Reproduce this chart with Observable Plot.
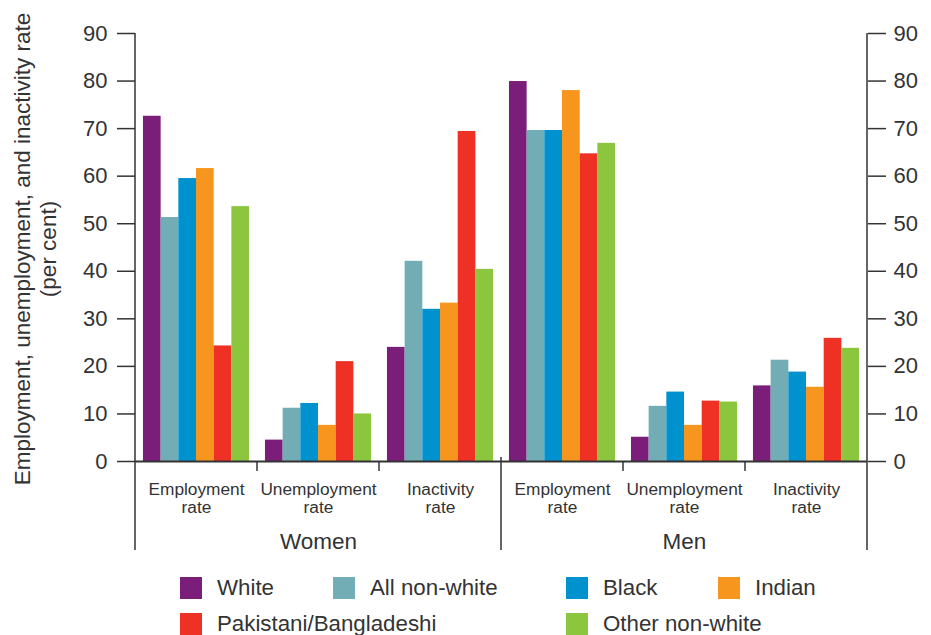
<!DOCTYPE html>
<html><head><meta charset="utf-8">
<script src="https://cdn.jsdelivr.net/npm/d3@7"></script>
<script src="https://cdn.jsdelivr.net/npm/@observablehq/plot@0.6"></script>
<style>
body{margin:0;background:#fff;font-family:"Liberation Sans",Arial,sans-serif;color:#333}
#legend{display:grid;grid-template-columns:153px 233px 152px auto;grid-auto-rows:22px;row-gap:14px;margin:17px 0 0 180px;font-size:22.3px}
.item{display:flex;align-items:center;white-space:nowrap;line-height:22px}
.sw{width:22px;height:22px;margin-right:15px;flex:none}
</style></head><body><div id="chart"></div><div id="legend"></div>
<script>
const sexes = ["Women", "Men"];
const measures = ["Employment rate", "Unemployment rate", "Inactivity rate"];
const ethnicities = ["White", "All non-white", "Black", "Indian", "Pakistani/Bangladeshi", "Other non-white"];
const colors = ["#7a1e7a", "#72adb5", "#0091cf", "#f7961e", "#ee3124", "#8cc63f"];

const womenEmployment   = [72.6, 51.3, 59.5, 61.6, 24.3, 53.6];
const womenUnemployment = [4.5, 11.2, 12.2, 7.6, 21.0, 10.0];
const womenInactivity   = [24.0, 42.1, 32.0, 33.3, 69.4, 40.4];
const menEmployment     = [79.9, 69.6, 69.6, 78.0, 64.7, 66.9];
const menUnemployment   = [5.1, 11.6, 14.6, 7.6, 12.7, 12.5];
const menInactivity     = [15.9, 21.3, 18.8, 15.6, 25.9, 23.8];
const yTicks = [0, 10, 20, 30, 40, 50, 60, 70, 80, 90];

const seriesBySex = {
  Women: [womenEmployment, womenUnemployment, womenInactivity],
  Men: [menEmployment, menUnemployment, menInactivity]
};
const groups = [];
const rows = [];
for (const s of sexes) {
  measures.forEach((m, mi) => {
    const g = s + "|" + m;
    groups.push(g);
    seriesBySex[s][mi].forEach((v, ei) => rows.push({group: g, sex: s, measure: m, ethnicity: ethnicities[ei], value: v}));
  });
}
const sexLabels = sexes.map(s => ({sex: s, group: s + "|" + measures[1]}));

const font = '"Liberation Sans", Arial, sans-serif';
const H = 560, Y0 = 461;

const plot = Plot.plot({
  width: 931, height: H,
  marginLeft: 135, marginRight: 64, marginTop: 33, marginBottom: H - Y0,
  style: {fontFamily: font, color: "#333", background: "white"},
  fx: {domain: groups, paddingInner: 0, paddingOuter: 0, round: false},
  x: {domain: ethnicities, paddingInner: 0, paddingOuter: 0.45, round: false, axis: null},
  y: {domain: [0, 90]},
  color: {domain: ethnicities, range: colors},
  marks: [
    Plot.barY(rows, {fx: "group", x: "ethnicity", y: "value", fill: "ethnicity"}),
    Plot.ruleY([0], {stroke: "#333", strokeWidth: 2}),
    Plot.axisY({anchor: "left", ticks: yTicks, tickSize: 18, tickPadding: 10, fontSize: 22, strokeWidth: 1.5, label: null}),
    Plot.axisY({anchor: "right", ticks: yTicks, tickSize: 18, tickPadding: 8, fontSize: 22, strokeWidth: 1.5, label: null}),
    Plot.axisFx({anchor: "bottom", tickSize: 0, tickPadding: 20, fontSize: 17.3, lineHeight: 1.08, label: null,
      tickFormat: d => d.split("|")[1].replace(" ", "\n")}),
    Plot.text(sexLabels, {fx: "group", text: "sex", frameAnchor: "bottom", dy: 87, fontSize: 22.5, fill: "#333"})
  ]
});

const svg = d3.select(plot);
const fxs = plot.scale("fx"), ys = plot.scale("y");
const bw = fxs.bandwidth;
const yTop = ys.apply(90), yBase = ys.apply(0);
const lineG = svg.append("g").attr("stroke", "#333").attr("stroke-width", 1.5);
const vline = (x, y1, y2) => lineG.append("line").attr("x1", x).attr("x2", x).attr("y1", y1).attr("y2", y2);
vline(fxs.apply(groups[0]), yTop, yBase + 89);
vline(fxs.apply(groups[groups.length - 1]) + bw, yTop, yBase + 89);
groups.forEach((g, i) => {
  if (i === 0) return;
  const x = fxs.apply(g);
  if (g.split("|")[1] === measures[0]) vline(x, yBase - 4, yBase + 89);
  else vline(x, yBase, yBase + 10);
});
const yl = svg.append("text").attr("transform", `translate(0,${(yTop + yBase) / 2 + 2}) rotate(-90)`)
  .attr("text-anchor", "middle").attr("fill", "#333").attr("font-size", 22.5).attr("font-family", font);
yl.append("tspan").attr("x", 0).attr("y", 30).text("Employment, unemployment, and inactivity rate");
yl.append("tspan").attr("x", 0).attr("y", 56).text("(per cent)");

document.getElementById("chart").append(plot);

const legend = d3.select("#legend");
const cells = [[0, 1, 1], [1, 2, 1], [2, 3, 1], [3, 4, 1], [4, 1, 2], [5, 3, 2]];
cells.forEach(([i, col, row]) => {
  const it = legend.append("div").attr("class", "item").style("grid-column", col).style("grid-row", row);
  it.append("div").attr("class", "sw").style("background", colors[i]);
  it.append("span").text(ethnicities[i]);
});
</script></body></html>
